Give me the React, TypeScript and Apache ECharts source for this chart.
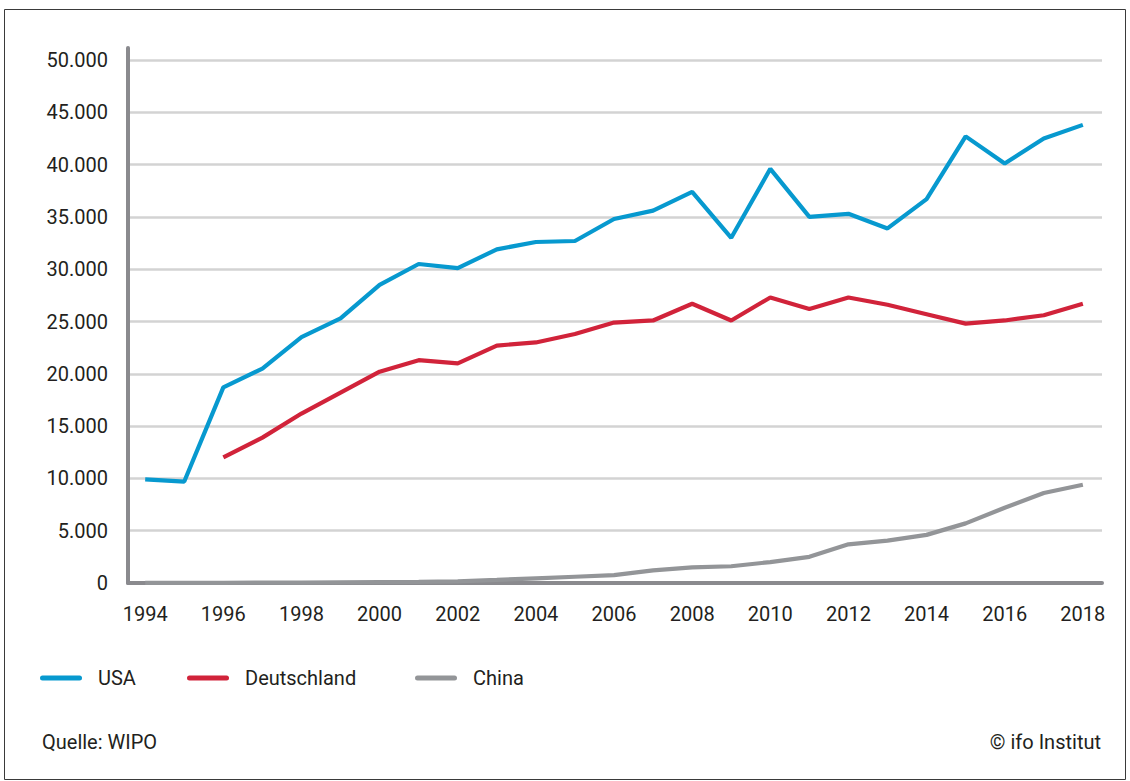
import React, { useEffect, useRef } from "react";
import * as echarts from "echarts";

const years = [1994, 1995, 1996, 1997, 1998, 1999, 2000, 2001, 2002, 2003, 2004, 2005, 2006, 2007, 2008, 2009, 2010, 2011, 2012, 2013, 2014, 2015, 2016, 2017, 2018];
const usa = [9900, 9700, 18700, 20500, 23500, 25300, 28500, 30500, 30100, 31900, 32600, 32700, 34800, 35600, 37400, 33000, 39600, 35000, 35300, 33900, 36700, 42700, 40100, 42500, 43800];
const deutschland = [null, null, 12000, 13900, 16200, 18200, 20200, 21300, 21000, 22700, 23000, 23800, 24900, 25100, 26700, 25100, 27300, 26200, 27300, 26600, 25700, 24800, 25100, 25600, 26700];
const china = [10, 10, 20, 30, 40, 60, 80, 100, 160, 300, 450, 600, 750, 1200, 1500, 1600, 2000, 2500, 3700, 4050, 4600, 5700, 7200, 8600, 9400];
const xTickLabels = [1994, 1996, 1998, 2000, 2002, 2004, 2006, 2008, 2010, 2012, 2014, 2016, 2018];
const seriesNames = ["USA", "Deutschland", "China"];
const seriesColors = ["#0799cf", "#d1233a", "#939598"];
const sourceText = "Quelle: WIPO";
const creditText = "© ifo Institut";

const FONT = "Roboto, 'Open Sans', sans-serif";
const TEXT = "#231f20";

const fmtDe = (v: number) => String(v).replace(/\B(?=(\d{3})+(?!\d))/g, ".");

const pairs = (vals: (number | null)[]) =>
  years.map((y, i) => [y, vals[i]] as [number, number | null]).filter((p) => p[1] !== null);

const legendIcon = "path://M2.5,0 H39.5 A2.5,2.5 0 0 1 39.5,5 H2.5 A2.5,2.5 0 0 1 2.5,0 Z";

export default function App() {
  const ref = useRef<HTMLDivElement>(null);
  useEffect(() => {
    if (!ref.current) return;
    const chart = echarts.init(ref.current, null, { renderer: "svg" });
    const allData = [usa, deutschland, china];
    const legendLefts = [35, 182, 410];
    chart.setOption({
      animation: false,
      backgroundColor: "#ffffff",
      textStyle: { fontFamily: FONT },
      grid: { left: 128, right: 28, top: 48, bottom: 198, containLabel: false },
      xAxis: {
        type: "value",
        min: 1993.56,
        max: 2018.49,
        axisLine: { show: true, onZero: false, lineStyle: { color: "#8a8a8e", width: 4 } },
        axisTick: { show: false },
        splitLine: { show: false },
        axisLabel: {
          customValues: xTickLabels,
          formatter: (v: number) => String(v),
          color: TEXT,
          fontSize: 20,
          fontFamily: FONT,
          margin: 21,
        },
      },
      yAxis: {
        type: "value",
        min: 0,
        max: 51150,
        interval: 5000,
        axisLine: { show: true, lineStyle: { color: "#8a8a8e", width: 4 } },
        axisTick: { show: false },
        splitLine: { show: true, showMinLine: false, showMaxLine: false, lineStyle: { color: "#d3d3d3", width: 2.5 } },
        axisLabel: {
          showMaxLabel: false,
          formatter: (v: number) => fmtDe(v),
          color: TEXT,
          fontSize: 20,
          fontFamily: FONT,
          margin: 20,
        },
      },
      legend: seriesNames.map((n, i) => ({
        data: [n],
        left: legendLefts[i],
        top: 663,
        icon: legendIcon,
        itemWidth: 42,
        itemHeight: 5,
        textStyle: { color: TEXT, fontSize: 20, fontFamily: FONT, padding: [0, 0, 0, 11] },
        selectedMode: false,
      })),
      series: seriesNames.map((n, i) => ({
        name: n,
        type: "line",
        data: pairs(allData[i]),
        showSymbol: false,
        symbol: "none",
        lineStyle: { color: seriesColors[i], width: 4.2 },
        itemStyle: { color: seriesColors[i] },
        z: 3,
      })),
      graphic: [
        {
          type: "rect",
          shape: { x: 4.5, y: 9.5, width: 1121, height: 770 },
          style: { fill: "none", stroke: "#3a3a3a", lineWidth: 1 },
          silent: true,
        },
        {
          type: "text",
          left: 42,
          top: 732,
          style: { text: sourceText, fill: TEXT, fontSize: 20, fontFamily: FONT },
        },
        {
          type: "text",
          right: 29,
          top: 732,
          style: { text: creditText, fill: TEXT, fontSize: 20, fontFamily: FONT },
        },
      ],
    });
    return () => chart.dispose();
  }, []);
  return <div ref={ref} style={{ position: "fixed", left: 0, top: 0, width: 1130, height: 781 }} />;
}
